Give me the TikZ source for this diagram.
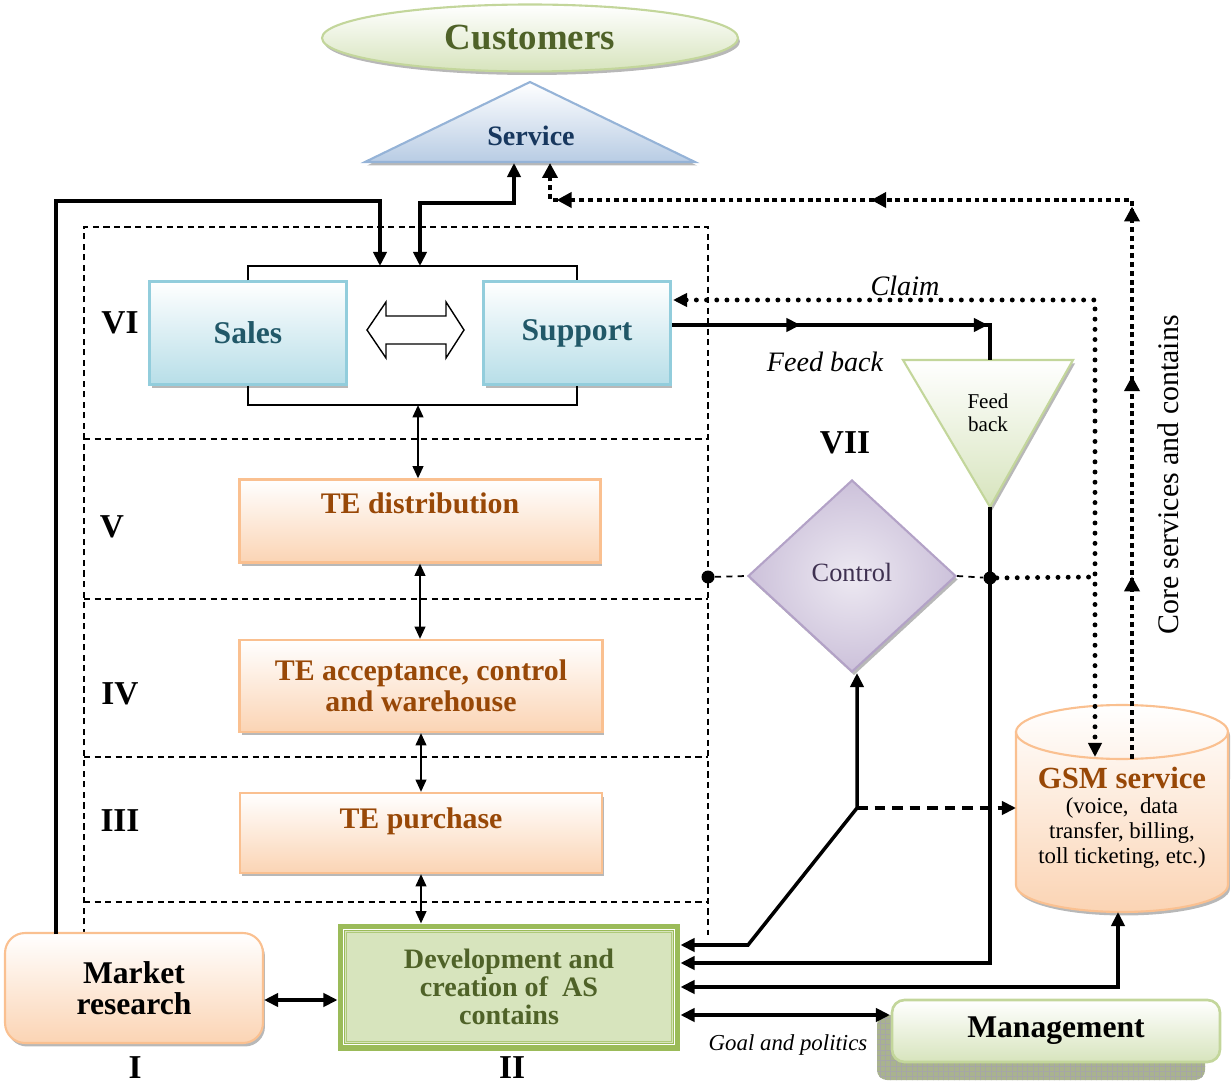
\documentclass[tikz,border=0pt]{standalone}
\usepackage{fontspec}
\setmainfont{Liberation Serif}
\usetikzlibrary{arrows.meta,shapes.geometric,shadows,calc,decorations.markings,patterns,positioning}

\definecolor{custtext}{HTML}{4F6228}
\definecolor{greenline}{HTML}{C3D69B}
\definecolor{greenfill}{HTML}{D7E4BD}
\definecolor{blueline}{HTML}{95B3D7}
\definecolor{bluefill}{HTML}{B8CCE4}
\definecolor{bluetext}{HTML}{17375E}
\definecolor{cyanline}{HTML}{92CDDC}
\definecolor{cyanfill}{HTML}{B7DEE8}
\definecolor{cyantext}{HTML}{215868}
\definecolor{peachline}{HTML}{FAC090}
\definecolor{peachfill}{HTML}{FBD4B4}
\definecolor{browntext}{HTML}{984807}
\definecolor{lavline}{HTML}{B3A2C7}
\definecolor{lavfill}{HTML}{CCC1DA}
\definecolor{lavlight}{HTML}{EDE9F2}
\definecolor{lavtext}{HTML}{3F3151}
\definecolor{devgreen}{HTML}{9BBB59}
\definecolor{shadowgray}{HTML}{B0B0B0}
\definecolor{mgmtshade}{HTML}{A9B38E}

\tikzset{
  softshadow/.style={drop shadow={shadow xshift=0.04cm, shadow yshift=-0.07cm, fill=shadowgray, opacity=0.9}},
  custell/.style={ellipse, draw=greenline, line width=1.2pt, top color=white, bottom color=greenfill,
    minimum width=8.32cm, minimum height=1.34cm, text=custtext, font=\fontsize{21}{25}\selectfont\bfseries, softshadow},
  servtri/.style={draw=blueline, line width=1.2pt, top color=white, bottom color=bluefill, softshadow},
  servtext/.style={text=bluetext, font=\fontsize{16}{19}\selectfont\bfseries},
  bluebox/.style={rectangle, draw=cyanline, line width=1.2pt, top color=white, bottom color=cyanfill,
    minimum width=3.94cm, minimum height=2.06cm, text=cyantext, font=\fontsize{18}{21}\selectfont\bfseries, softshadow},
  peachbox/.style={rectangle, draw=peachline, line width=1.2pt, top color=white, bottom color=peachfill,
    text=browntext, align=center, font=\fontsize{17}{18}\selectfont\bfseries, softshadow},
  peachtext/.style={text=browntext, font=\fontsize{17}{18}\selectfont\bfseries, inner sep=0pt, align=center},
  devbox/.style={rectangle, draw=devgreen, line width=4pt, fill=greenfill, minimum width=6.72cm, minimum height=2.4cm,
    text=custtext, align=center, font=\fontsize{16}{16}\selectfont\bfseries},
  marketbox/.style={rectangle, rounded corners=0.4cm, draw=peachline, line width=1.2pt, top color=white, bottom color=peachfill,
    minimum width=5.16cm, minimum height=2.2cm, align=center, font=\fontsize{18}{18}\selectfont\bfseries, softshadow},
  mgmtbox/.style={rectangle, rounded corners=0.25cm, draw=greenline, line width=1.5pt, top color=white, bottom color=greenfill,
    minimum width=6.56cm, minimum height=1.24cm, font=\fontsize{18}{21}\selectfont\bfseries},
  ctrldiamond/.style={diamond, draw=lavline, line width=1.2pt, inner color=lavlight, outer color=lavfill,
    minimum width=4.16cm, minimum height=3.84cm, inner sep=0pt, text=lavtext, font=\fontsize{15}{18}\selectfont, softshadow},
  fbtri/.style={draw=greenline, line width=1.2pt, top color=white, bottom color=greenfill, softshadow},
  fbtext/.style={align=center, font=\fontsize{12}{13}\selectfont},
  gsmcyl/.style={draw=peachline, line width=1.2pt, top color=white, bottom color=peachfill, softshadow},
  gsmtitle/.style={text=browntext, font=\fontsize{17.5}{20}\selectfont\bfseries},
  gsmbody/.style={align=center, font=\fontsize{13}{14}\selectfont},
  layer/.style={font=\fontsize{19}{22}\selectfont\bfseries},
  flowlabel/.style={font=\fontsize{16}{19}\selectfont\itshape},
  dotnode/.style={circle, fill=black, inner sep=0pt, minimum size=0.26cm},
  conn/.style={line width=2pt, >={Triangle[length=8pt,width=7.5pt]}},
  thinconn/.style={line width=1.3pt, >={Triangle[length=7pt,width=6pt]}},
  bracket/.style={line width=1.1pt},
  frame/.style={line width=0.7pt, dash pattern=on 3.5pt off 2.5pt},
  dashconn/.style={line width=1pt, dash pattern=on 3.5pt off 3pt},
  bigdash/.style={line width=2pt, dash pattern=on 6pt off 4pt, >={Triangle[length=8pt,width=7.5pt]}},
  claimdots/.style={line width=2.8pt, line cap=round, dash pattern=on 0pt off 5.8pt, >={Triangle[length=8pt,width=7.5pt]}},
  coredots/.style={line width=2.8pt, dash pattern=on 2.8pt off 2.2pt, >={Triangle[length=8.5pt,width=8.5pt]}}
}

\begin{document}
\begin{tikzpicture}[x=0.02cm,y=-0.02cm]
    \useasboundingbox (0,0) rectangle (1231,1087);

    % layer frame
    \draw[frame] (84,935) -- (84,227) -- (708,227) -- (708,935);
    \draw[frame] (84,439) -- (708,439);
    \draw[frame] (84,599) -- (708,599);
    \draw[frame] (84,757) -- (708,757);
    \draw[frame] (84,902) -- (708,902);

    % top
    \node[custell] (customers) at (530,38) {Customers};
    \path[servtri] (365,162) -- (530,82) -- (695,162) -- cycle;
    \node[servtext] (service) at (531,136) {Service};
    \coordinate (servin) at (514,163);
    \coordinate (servcore) at (550,163);

    % VI
    \node[bluebox] (sales) at (248,333) {\raisebox{-6pt}{Sales}};
    \node[bluebox, minimum width=3.74cm] (support) at (577,333) {\raisebox{-6pt}{Support}};
    \path[draw, fill=white, line width=0.8pt] (367,330) -- (386,302) -- (386,316) -- (446,316) -- (446,302)
        -- (464,330) -- (446,358) -- (446,344) -- (386,344) -- (386,358) -- cycle;
    \coordinate (brtop) at (410,266);
    \coordinate (brbot) at (418,405);
    \draw[bracket] (sales.north) |- (brtop) -| (support.north);
    \draw[bracket] (sales.south) |- (brbot) -| (support.south);

    % V to III
    \node[peachbox, minimum width=7.22cm, minimum height=1.66cm] (tedist) at (420,521) {};
    \node[peachtext, below=0.28cm of tedist.north] (tedisttext) {TE distribution};
    \node[peachbox, minimum width=7.26cm, minimum height=1.84cm] (teacc) at (421,686) {TE acceptance, control\\and warehouse};
    \node[peachbox, minimum width=7.24cm, minimum height=1.6cm] (tepur) at (421,833) {};
    \node[peachtext, below=0.3cm of tepur.north] (tepurtext) {TE purchase};

    % I, II
    \node[devbox] (dev) at (509,987) {Development and\\creation of~~AS\\contains};
    \draw[white, line width=1pt] ($(dev.south west)+(6,-6)$) rectangle ($(dev.north east)+(-6,6)$);
    \draw[devgreen!80, line width=0.8pt] ($(dev.south west)+(9,-9)$) rectangle ($(dev.north east)+(-9,9)$);
    \node[marketbox] (market) at (134,988) {Market\\research};

    % management
    \fill[mgmtshade, rounded corners=0.2cm] (877,1015) rectangle (1205,1080);
    \fill[pattern=grid, pattern color=black!35, rounded corners=0.2cm] (877,1015) rectangle (1205,1080);
    \node[mgmtbox] (mgmt) at (1056,1031) {Management};

    % VII
    \node[ctrldiamond] (control) at (852,576) {\raisebox{4pt}{Control}};
    \path[fbtri] (903,360) -- (1073,360) -- (990,507) -- cycle;
    \node[fbtext] (fbtext) at (988,413) {Feed\\back};
    \coordinate (fbtop) at (990,360);
    \coordinate (fbbot) at (990,507);

    % GSM service
    \path[gsmcyl] (1016,732) -- (1016,885) arc[start angle=180, end angle=360, x radius=2.12cm, y radius=0.54cm]
        -- (1228,732) arc[start angle=0, end angle=180, x radius=2.12cm, y radius=0.54cm] -- cycle;
    \draw[peachline, line width=1.2pt] (1016,732) arc[start angle=180, end angle=360, x radius=2.12cm, y radius=0.54cm];
    \node[gsmtitle] (gsmtitle) at (1122,778) {GSM service};
    \node[gsmbody] (gsmbody) at (1122,833) {(voice,~~data\\transfer, billing,\\toll ticketing, etc.)};
    \coordinate (gsmclaim) at (1095,757);
    \coordinate (gsmcore) at (1132,759);
    \coordinate (gsmleft) at (1016,808);
    \coordinate (gsmbot) at (1118,912);

    % labels
    \node[layer] (lvi) at (120,323) {VI};
    \node[layer] (lv) at (112,527) {V};
    \node[layer] (liv) at (120,694) {IV};
    \node[layer] (liii) at (120,821) {III};
    \node[layer] (li) at (135,1068) {I};
    \node[layer] (lii) at (512,1068) {II};
    \node[layer] (lvii) at (845,443) {VII};
    \node[flowlabel] (claim) at (905,286) {Claim};
    \node[flowlabel] (fblabel) at (825,362) {Feed back};
    \node[flowlabel, font=\fontsize{13}{15}\selectfont\itshape] (goal) at (788,1045) {Goal and politics};
    \node[rotate=90, font=\fontsize{17}{20}\selectfont] (core) at (1168,475) {Core services and contains};

    % connectors
    \coordinate (mrtop) at (56,934);
    \coordinate (mrin) at (380,266);
    \draw[conn, ->] (mrtop) -- (56,201) -| (mrin);
    \coordinate (spin) at (420,266);
    \draw[conn, <->] (spin) -- (420,203) -| (servin);

    \draw[coredots, ->, postaction={solid, decorate, decoration={markings,
        mark=at position 0.155 with {\arrow{Triangle[length=8.5pt,width=8.5pt]}},
        mark=at position 0.325 with {\arrow{Triangle[length=8.5pt,width=8.5pt]}},
        mark=at position 0.469 with {\arrow{Triangle[length=8.5pt,width=8.5pt]}},
        mark=at position 0.696 with {\arrow{Triangle[length=8.5pt,width=8.5pt]}},
        mark=at position 0.963 with {\arrow{Triangle[length=8.5pt,width=8.5pt]}}}}]
        (gsmcore) -- (1132,200) -- (550,200) -- (servcore);

    \coordinate (supclaim) at (673,300);
    \draw[claimdots, <->] (supclaim) -- (1095,300) -- (gsmclaim);

    \coordinate (supfb) at (672,325);
    \draw[conn, postaction={decorate, decoration={markings,
        mark=at position 0.364 with {\arrow{Triangle[length=8pt,width=7.5pt]}},
        mark=at position 0.895 with {\arrow{Triangle[length=8pt,width=7.5pt]}}}}]
        (supfb) -- (990,325) -- (fbtop);
    \draw[conn, ->] (fbbot) |- ($(dev.east)+(0,-24)$);

    \node[dotnode] (dotR) at (990,578) {};
    \node[dotnode] (dotL) at (708,577) {};
    \draw[dashconn] (dotL) -- (control.west);
    \draw[dashconn] (control.east) -- (dotR);
    \coordinate (clj) at (1095,577);
    \draw[claimdots] (dotR) -- (clj);

    \coordinate (fork) at (857,808);
    \draw[conn, <->] ($(dev.east)+(0,-42)$) -- (748,945) -- (fork) -- (fork |- control.south);
    \draw[bigdash, ->] (fork) -- (gsmleft);
    \draw[conn, <->] (dev.east) -| (gsmbot);
    \coordinate (mgin) at (890,1015);
    \draw[conn, <->] ($(dev.east)+(0,28)$) -- (mgin);
    \draw[conn, <->] ($(market.east)+(0,12)$) -- ($(dev.west)+(0,13)$);

    \draw[thinconn, <->] (brbot) -- (brbot |- tedist.north);
    \draw[thinconn, <->] (tedist.south) -- (tedist.south |- teacc.north);
    \draw[thinconn, <->] (teacc.south) -- (teacc.south |- tepur.north);
    \draw[thinconn, <->] (tepur.south) -- (tepur.south |- dev.north);
\end{tikzpicture}
\end{document}
